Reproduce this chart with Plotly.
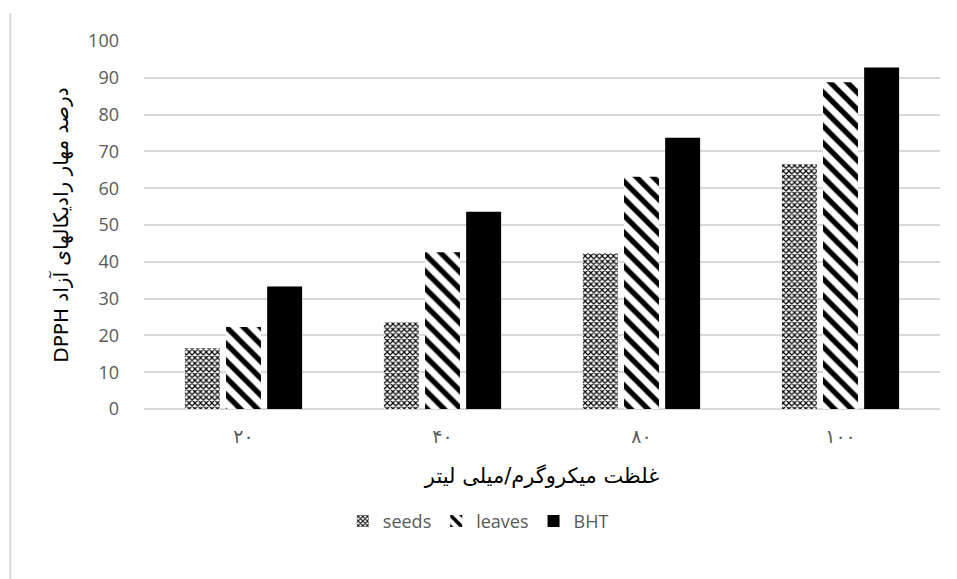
import plotly.graph_objects as go

categories = ["۲۰", "۴۰", "۸۰", "۱۰۰"]
seeds = [16.5, 23.5, 42.4, 66.5]
leaves = [22.3, 42.6, 63.1, 88.8]
bht = [33.3, 53.6, 73.7, 92.8]

fig = go.Figure()
fig.add_trace(go.Bar(
    x=categories, y=seeds, name="seeds",
    marker=dict(color="white", line=dict(width=0),
                pattern=dict(shape="x", size=4, solidity=0.5, fgcolor="black", bgcolor="white", fillmode="replace")),
))
fig.add_trace(go.Bar(
    x=categories, y=leaves, name="leaves",
    marker=dict(color="white", line=dict(width=0),
                pattern=dict(shape="\\", size=12, solidity=0.45, fgcolor="black", bgcolor="white", fillmode="replace")),
))
fig.add_trace(go.Bar(
    x=categories, y=bht, name="BHT",
    marker=dict(color="black", line=dict(width=0)),
))

fig.update_layout(
    width=957, height=579,
    margin=dict(l=144, r=17, t=41, b=170),
    paper_bgcolor="white", plot_bgcolor="white",
    barmode="group", bargap=0.38, bargroupgap=0.15,
    font=dict(family="DejaVu Sans", color="#595959"),
    showlegend=True,
    legend=dict(orientation="h", x=0.42, xanchor="center", y=-0.255, yanchor="top",
                font=dict(family="Open Sans", size=18, color="#595959"),
                itemwidth=30, traceorder="normal"),
    xaxis=dict(
        showgrid=False, showline=False, zeroline=False, ticks="",
        tickfont=dict(family="DejaVu Sans", size=19, color="#595959"),
        ticklabelstandoff=14,
        title=dict(text="غلظت میکروگرم/میلی لیتر", font=dict(family="DejaVu Sans", size=21, color="black"), standoff=22),
    ),
    yaxis=dict(
        range=[0, 100], dtick=10, showgrid=True, gridcolor="#d9d9d9", gridwidth=1.5,
        zeroline=True, zerolinecolor="#d9d9d9", zerolinewidth=1.5, showline=False, ticks="",
        tickfont=dict(family="Open Sans", size=18, color="#595959"),
        ticklabelstandoff=24,
        title=dict(text="DPPH درصد مهار رادیکالهای آزاد", font=dict(family="DejaVu Sans", size=20, color="black"), standoff=14),
    ),
    shapes=[dict(type="line", xref="paper", yref="paper", x0=-0.168, x1=-0.168, y0=1.076, y1=-0.47,
                 line=dict(color="#d9d9d9", width=2))],
)

fig.write_html("out.html")
